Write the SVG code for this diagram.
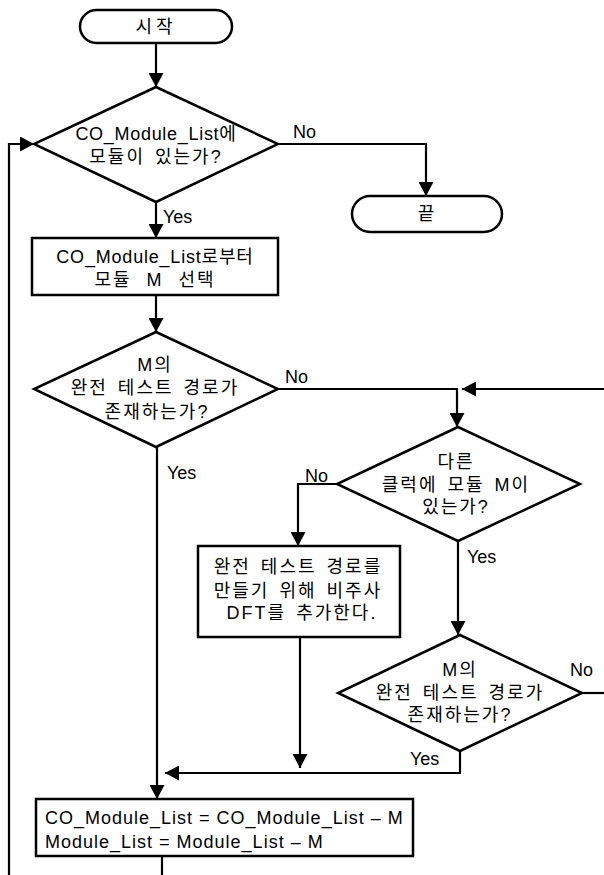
<svg xmlns="http://www.w3.org/2000/svg" width="604" height="875" viewBox="0 0 604 875">
<defs>
<marker id="ah" markerUnits="userSpaceOnUse" markerWidth="14" markerHeight="15" viewBox="0 0 14 15" refX="14" refY="7.5" orient="auto">
<path d="M0,0 L14,7.5 L0,15 Z" fill="#000"/>
</marker>
</defs>
<style>
.s{fill:#fff;stroke:#000;stroke-width:2.5}
.c{fill:none;stroke:#000;stroke-width:2.2}
.a{marker-end:url(#ah)}
text{font-family:"Liberation Sans","Noto Sans CJK KR",sans-serif;font-size:18px;fill:#000}
.m{text-anchor:middle;letter-spacing:2px;word-spacing:3px}
.l{letter-spacing:1px}
</style>
<g id="connectors">
<path class="c a" d="M156,43 V87"/>
<path class="c a" d="M278,144 H426 V196"/>
<path class="c a" d="M156,202 V238"/>
<path class="c a" d="M156,295 V332"/>
<path class="c a" d="M278,389 H457 V427"/>
<path class="c a" d="M604,389 H462"/>
<path class="c a" d="M337,484 H298 V546"/>
<path class="c a" d="M458,541 V635"/>
<path class="c" d="M582,693 H604"/>
<path class="c a" d="M460,751 V773 H165"/>
<path class="c a" d="M300,637 V768"/>
<path class="c a" d="M157,447 V799"/>
<path class="c" d="M162,856 V875"/>
<path class="c a" d="M9,875 V144 H34"/>
<text x="293" y="138">No</text>
<text x="163" y="223">Yes</text>
<text x="285" y="383">No</text>
<text x="167" y="479">Yes</text>
<text x="305" y="482">No</text>
<text x="467" y="563">Yes</text>
<text x="570" y="676">No</text>
<text x="410" y="765">Yes</text>
</g>
<g id="start">
<rect class="s" x="80" y="10" width="152" height="33" rx="16.5"/>
<text class="m" x="156" y="33" style="letter-spacing:4px">시작</text>
</g>
<g id="d1">
<path class="s" d="M156,87 L278,144 L156,202 L34,144 Z"/>
<text class="m" x="156" y="140" style="letter-spacing:0.7px">CO_Module_List에</text>
<text class="m" x="156" y="163">모듈이 있는가?</text>
</g>
<g id="end">
<rect class="s" x="352" y="196" width="150" height="36" rx="18"/>
<text class="m" x="427" y="220">끝</text>
</g>
<g id="b1">
<rect class="s" x="32" y="238" width="246" height="57"/>
<text class="m" x="155" y="263" style="letter-spacing:0.8px">CO_Module_List로부터</text>
<text class="m" x="155" y="286" style="word-spacing:8px">모듈 M 선택</text>
</g>
<g id="d2">
<path class="s" d="M156,332 L278,389 L156,447 L34,389 Z"/>
<text class="m" x="155" y="371">M의</text>
<text class="m" x="155" y="394">완전 테스트 경로가</text>
<text class="m" x="157" y="418">존재하는가?</text>
</g>
<g id="d3">
<path class="s" d="M458,427 L580,484 L458,541 L337,484 Z"/>
<text class="m" x="456" y="468">다른</text>
<text class="m" x="456" y="491">클럭에 모듈 M이</text>
<text class="m" x="456" y="513">있는가?</text>
</g>
<g id="b2">
<rect class="s" x="198" y="546" width="202" height="91"/>
<text class="m" x="298" y="573">완전 테스트 경로를</text>
<text class="m" x="298" y="597">만들기 위해 비주사</text>
<text class="m" x="302" y="619">DFT를 추가한다.</text>
</g>
<g id="d4">
<path class="s" d="M460,635 L582,693 L460,751 L338,693 Z"/>
<text class="m" x="460" y="676">M의</text>
<text class="m" x="460" y="699">완전 테스트 경로가</text>
<text class="m" x="460" y="721">존재하는가?</text>
</g>
<g id="b3">
<rect class="s" x="36" y="799" width="377" height="57"/>
<text class="l" x="45" y="824">CO_Module_List = CO_Module_List – M</text>
<text class="l" x="45" y="848">Module_List = Module_List – M</text>
</g>
</svg>
